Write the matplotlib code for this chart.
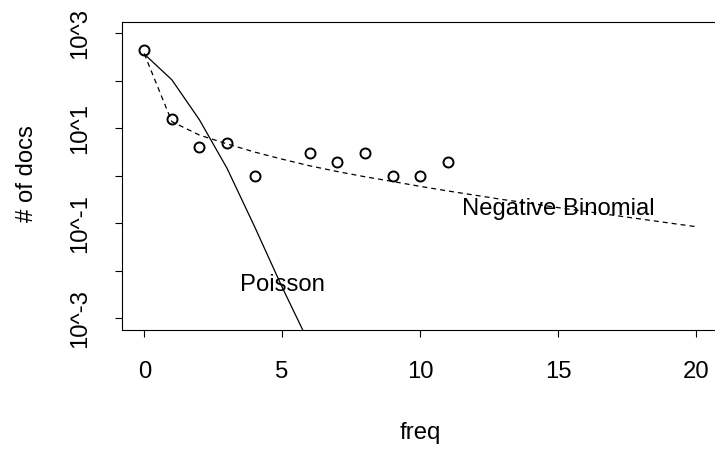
import matplotlib
matplotlib.use("Agg")
import matplotlib.pyplot as plt
from matplotlib.ticker import FixedLocator, FixedFormatter, NullLocator

plt.rcParams['font.family'] = ['Liberation Sans', 'DejaVu Sans']

# observed document counts (zero counts omitted on log scale)
obs_freq = [0, 1, 2, 3, 4, 6, 7, 8, 9, 10, 11]
obs_docs = [450, 16, 4, 5, 1, 3, 2, 3, 1, 1, 2]

# Poisson fit
pois_freq = [0, 1, 2, 3, 4, 5, 6, 7]
pois_docs = [366, 105, 15.1, 1.44, 0.085, 0.0045, 0.00028, 0.000012]

# Negative binomial fit
nb_freq = list(range(0, 21))
nb_docs = [370, 13.8, 7.2, 4.7, 3.16, 2.24, 1.62, 1.23, 0.955, 0.76, 0.60,
           0.48, 0.39, 0.316, 0.263, 0.214, 0.178, 0.148, 0.123, 0.102, 0.085]

x_ticks = [0, 5, 10, 15, 20]
y_ticks = [1e-3, 1e-2, 1e-1, 1e0, 1e1, 1e2, 1e3]
y_tick_labels = ['10^-3', '', '10^-1', '', '10^1', '', '10^3']

W, H = 715, 451
fig = plt.figure(figsize=(W / 100, H / 100), dpi=100)
left, right, top, bottom = 122.2, 718.0, 21.9, 329.7
ax = fig.add_axes([left / W, 1 - bottom / H, (right - left) / W, (bottom - top) / H])

FS = 17.2
ax.plot(pois_freq, pois_docs, color='black', lw=0.9, solid_joinstyle='miter')
ax.plot(nb_freq, nb_docs, color='black', lw=0.9, linestyle=(0, (4.0, 3.2)))
ax.plot(obs_freq, obs_docs, linestyle='none', marker='o', ms=7.2,
        mfc='none', mec='black', mew=1.4)

ax.text(5, 0.005, 'Poisson', fontsize=FS, ha='center', va='center')
ax.text(15, 0.2, 'Negative Binomial', fontsize=FS, ha='center', va='center')

ax.set_yscale('log')
ax.set_xlim(-0.8, 20.8)
ax.set_ylim(10 ** -3.24, 10 ** 3.24)

ax.xaxis.set_major_locator(FixedLocator(x_ticks))
ax.set_xticklabels([str(t) for t in x_ticks])
ax.yaxis.set_major_locator(FixedLocator(y_ticks))
ax.yaxis.set_major_formatter(FixedFormatter(y_tick_labels))
ax.yaxis.set_minor_locator(NullLocator())

ax.tick_params(axis='x', length=5, width=0.8, pad=17.5, labelsize=FS)
ax.tick_params(axis='y', length=5, width=0.8, pad=17.5, labelsize=FS)
for lab in ax.get_yticklabels():
    lab.set_rotation(90)
    lab.set_va('center')

for s in ['left', 'top', 'bottom', 'right']:
    ax.spines[s].set_linewidth(0.8)
    ax.spines[s].set_color('black')

fig.text(420 / W, 1 - 439.3 / H, 'freq', fontsize=FS, ha='center', va='baseline')
fig.text(33.0 / W, 1 - 174 / H, '# of docs', fontsize=FS, rotation=90,
         rotation_mode='anchor', ha='center', va='baseline')

fig.savefig('out.png', dpi=100)
